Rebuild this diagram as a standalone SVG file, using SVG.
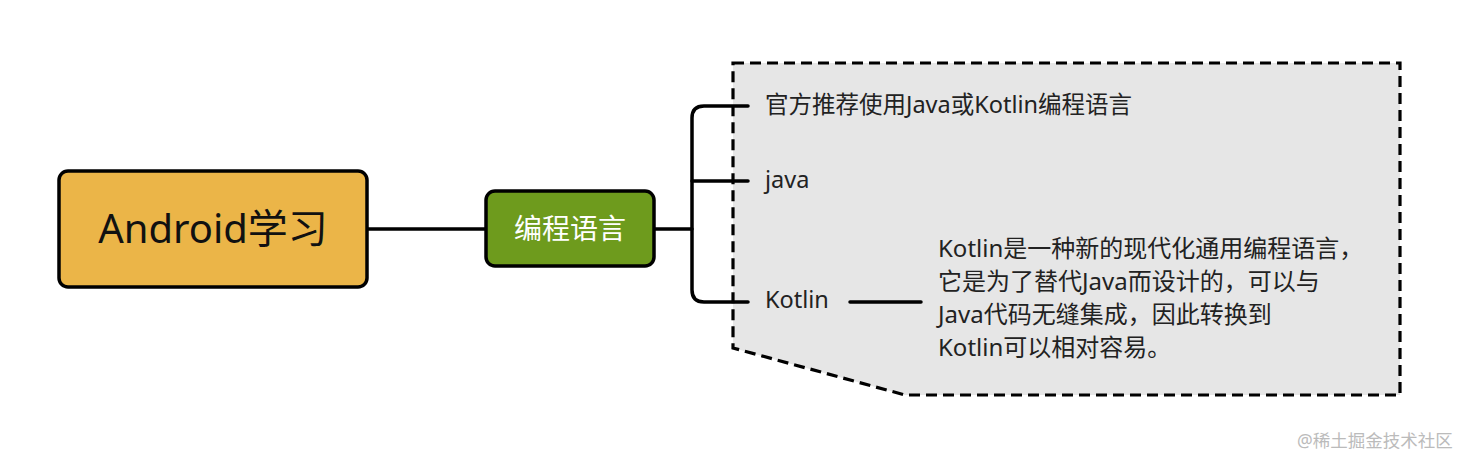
<svg xmlns="http://www.w3.org/2000/svg" width="1464" height="458" viewBox="0 0 1464 458">
<style>
text{font-family:"Noto Sans","Noto Sans CJK SC",sans-serif;}
.conn{fill:none;stroke:#000;stroke-width:3.5;stroke-linecap:round;stroke-linejoin:round}
.lbl{font-size:23.5px;fill:#222}
.desc{font-size:24px;fill:#222}
</style>
<rect width="1464" height="458" fill="#fff"/>
<g id="summary-box">
<path d="M733,63 L1400,63 L1400,395 L905,395 L733,348 Z" fill="#e6e6e6" stroke="#000" stroke-width="3.2" stroke-dasharray="11,6"/>
</g>
<g id="connectors">
<path class="conn" d="M367,229 L487,229"/>
<path class="conn" d="M654,229 L692,229"/>
<path class="conn" d="M748,106 L704,106 Q692,106 692,118 L692,290 Q692,302 704,302 L748,302"/>
<path class="conn" d="M692,181 L748,181"/>
<path class="conn" d="M850,302 L921,302"/>
</g>
<g id="root">
<rect x="59" y="171" width="308" height="116" rx="9" fill="#ebb548" stroke="#000" stroke-width="3.5"/>
<text x="213" y="243" font-size="40" text-anchor="middle" fill="#111">Android学习</text>
</g>
<g id="node-lang">
<rect x="486" y="191" width="168" height="75" rx="9" fill="#6e9b1d" stroke="#000" stroke-width="3.5"/>
<text x="570" y="239" font-size="28" text-anchor="middle" fill="#fff">编程语言</text>
</g>
<g id="node-official">
<text class="lbl" x="765" y="113">官方推荐使用Java或Kotlin编程语言</text>
</g>
<g id="node-java">
<text class="lbl" x="765" y="188">java</text>
</g>
<g id="node-kotlin">
<text class="lbl" x="765" y="308">Kotlin</text>
</g>
<g id="node-kotlin-desc">
<text class="desc" x="938" y="257">Kotlin是一种新的现代化通用编程语言，</text>
<text class="desc" x="938" y="290">它是为了替代Java而设计的，可以与</text>
<text class="desc" x="938" y="323">Java代码无缝集成，因此转换到</text>
<text class="desc" x="938" y="356">Kotlin可以相对容易。</text>
</g>
<text x="1297" y="447" font-size="17.5" fill="#bbb">@稀土掘金技术社区</text>
</svg>
